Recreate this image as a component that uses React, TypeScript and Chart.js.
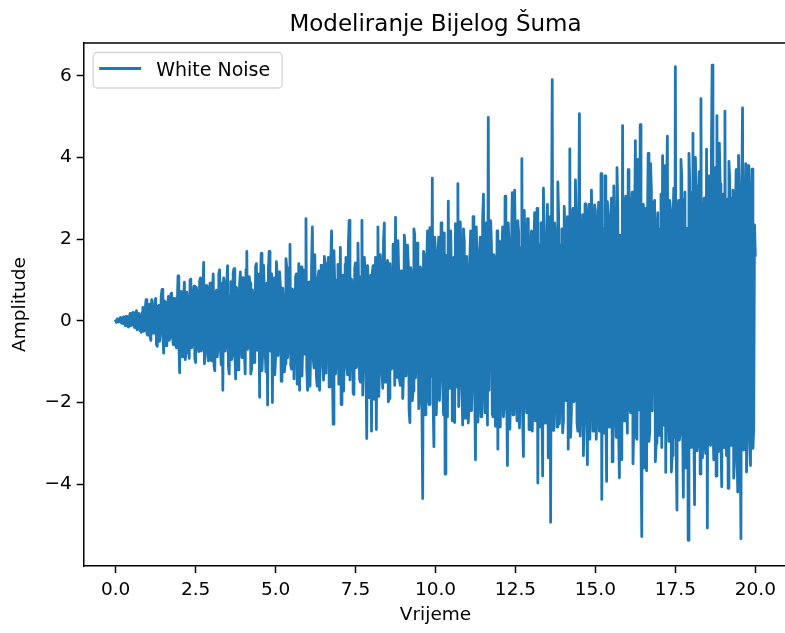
import React, { useEffect, useRef } from "react";
import { Chart, registerables } from "chart.js";

Chart.register(...registerables);

const TITLE = "Modeliranje Bijelog Šuma";
const SERIES_LABEL = "White Noise";
const X_LABEL = "Vrijeme";
const Y_LABEL = "Amplitude";
const TIME_STEP = 0.025; // seconds between consecutive samples
const X_TICKS = [0, 2.5, 5, 7.5, 10, 12.5, 15, 17.5, 20];
const Y_TICKS = [-4, -2, 0, 2, 4, 6];
const X_MIN = -1;
const X_MAX = 21;
const Y_MIN = -6.0;
const Y_MAX = 6.8;
const LINE_COLOR = "#1f77b4";

// samples at t = 0, 0.05, 0.10, ... 20.00 (one row per second)
const SAMPLES_ON_GRID = [
  0.00, 0.05, -0.03, 0.08, -0.06, 0.10, -0.12, 0.06, -0.15, 0.18, -0.09, 0.21, -0.17, 0.25, -0.20, 0.14, -0.28, 0.33, -0.22, 0.52,
  -0.35, 0.41, -0.48, 0.22, -0.30, 0.55, -0.62, 0.38, -0.15, 0.77, -0.79, 0.45, -0.52, 0.60, -0.40, 0.68, -0.58, 0.31, -0.66, 1.10,
  -1.27, 0.72, -0.55, 0.95, -0.78, 0.40, -0.92, 1.02, -0.48, 0.85, -1.02, 0.58, -0.75, 1.05, -0.60, 1.43, -0.83, 0.66, -0.98, 0.92,
  -0.98, 1.15, -1.22, 0.75, -0.64, 1.25, -1.08, -1.70, 0.88, -0.45, 1.35, -1.30, 0.96, -0.82, 1.28, -1.42, 0.70, -1.15, 1.20, -0.90,
  1.05, -1.30, 1.70, -0.45, 0.92, -1.18, 0.32, -0.80, 1.40, -0.26, -1.87, 1.65, -0.65, 0.58, -1.25, -2.06, 1.70, -0.42, -2.00, 1.05,
  -0.90, 1.12, -0.38, 0.85, -1.42, 0.45, -1.05, 1.28, -0.60, 1.87, -1.18, 0.70, -0.22, 1.15, -0.88, -1.70, 1.32, -0.55, 0.98, 2.50,
  -1.70, 0.95, -0.60, 2.30, -1.15, 0.48, -1.60, 1.22, -0.78, 0.65, -1.45, 1.40, -0.30, 1.55, -1.02, 2.20, -2.53, 0.85, -0.95, 1.38,
  -0.72, -2.05, 1.12, -0.88, 1.55, -1.32, 2.46, -0.58, 0.90, -1.80, 1.42, -1.05, 0.68, -1.50, 2.46, -0.82, 1.20, -2.88, 0.75, -1.25,
  -2.70, 1.35, -0.95, -2.66, 2.30, -1.18, 1.05, -1.65, 2.40, -0.80, 1.48, -1.90, 0.92, -1.12, 1.70, 2.53, -1.38, 1.15, -1.58, 0.88,
  -1.30, 1.85, -0.95, 1.40, -2.49, 1.10, -1.72, 2.10, -0.70, 1.55, -1.88, 1.25, -4.35, 1.60, -1.25, 2.20, -2.05, 1.05, 3.49, -3.08,
  1.70, -1.45, 2.05, -1.05, 1.60, -2.30, -3.75, 1.30, 2.93, -1.65, 1.02, -2.10, -2.49, 1.85, 3.36, -1.30, 1.45, -2.55, 1.95, -1.55,
  1.15, -2.00, 2.20, -1.30, 1.70, -3.40, 1.40, -1.80, 2.05, -1.45, 3.10, -2.25, 1.30, 4.98, -1.70, 1.85, -2.35, 1.50, -1.95, -3.14,
  1.95, -1.50, 2.30, -2.10, 1.45, -3.54, 1.80, -1.65, 3.14, -2.00, 1.60, -2.45, 2.15, -1.35, 3.97, -3.32, 1.90, -2.25, 2.50, -1.75,
  2.20, -1.95, 2.65, -1.70, -3.97, 1.85, 2.40, -3.80, 1.75, -2.30, 2.85, -1.80, -4.93, 5.90, -2.10, 2.05, -2.60, 2.55, -1.85, 2.25,
  -2.45, 2.05, -1.75, -3.14, 4.21, -2.20, 2.75, -1.95, 2.35, -2.70, 5.07, -2.05, 2.60, -2.35, 1.95, -3.52, 2.85, -1.80, 2.20, -2.55,
  2.70, -2.15, 2.90, -2.35, -4.37, 2.25, 3.55, -3.93, 2.60, -2.05, 3.00, -2.60, 2.20, -2.85, 2.75, -3.84, 2.10, 4.78, -2.45, 3.05,
  -2.75, 2.50, -2.25, 3.15, -2.60, 4.41, -2.90, 2.30, 4.80, -5.28, 2.85, -2.50, -3.67, 4.10, -2.70, 3.20, -2.20, 2.95, -3.00, 2.65,
  -2.80, 3.10, 4.04, -2.55, -3.71, 4.52, -2.95, 2.70, -3.30, 3.25, 6.22, -4.63, 2.95, -2.75, 3.50, -4.32, 3.15, -3.05, -5.37, 3.40,
  -3.10, 4.59, -4.50, 3.30, -2.95, 3.65, 5.44, -3.35, 3.00, -3.25, -5.07, 3.55, -3.05, 6.26, -3.40, 3.75, 5.02, -3.20, 3.35, -4.06,
  3.10, 5.13, -3.30, -4.10, 3.45, -3.05, 3.20, -3.40, 3.70, -4.19, 3.00, -5.33, 5.21, -3.15, 3.85, -2.90, 3.25, -3.54, 3.71, -2.66,
  1.60,
];

// samples at t = 0.025, 0.075, ... 19.975 (between the grid samples)
const SAMPLES_BETWEEN = [
  -0.04, 0.02, 0.06, -0.05, 0.08, -0.07, 0.11, -0.13, 0.09, -0.12, 0.16, -0.14, 0.19, -0.22, 0.18, -0.25, 0.20, -0.26, 0.30, -0.31,
  0.28, -0.37, 0.52, -0.30, 0.47, -0.58, 0.36, -0.50, 0.62, -0.33, 0.49, -0.61, 0.40, -0.48, 0.66, -0.35, 0.55, -0.60, 0.38, -0.52,
  0.55, -0.88, 0.62, -0.95, 0.70, -0.52, 1.00, -0.66, 0.58, -0.92, 0.82, -0.60, 0.98, -0.74, 0.62, -1.05, 0.86, -0.56, 0.71, -0.94,
  0.70, -1.10, 0.65, -0.88, 1.15, -0.68, 0.92, 1.05, -0.74, 0.98, -1.12, 0.62, -0.95, 1.18, -0.72, 0.82, -1.20, 0.93, -0.66, 1.06,
  -0.78, 1.25, -0.70, 1.08, -1.30, 0.76, -1.02, 1.34, -0.72, 1.14, 0.84, -1.22, 1.36, -0.80, 0.92, 1.28, -0.74, 1.15, 0.70, -1.32,
  1.45, -0.85, 1.20, -1.48, 0.80, -1.25, 1.52, -0.90, 1.30, -1.10, 0.78, -1.42, 1.08, -1.55, 1.40, 0.86, -1.35, 1.24, -0.82, -1.15,
  0.95, -1.60, 1.32, -0.90, 1.62, -1.35, 1.05, -1.70, 1.36, -1.00, 1.58, -1.28, 0.92, -1.62, 1.45, -1.05, 1.72, -1.30, 1.00, -1.55,
  1.80, 1.05, -1.72, 1.38, -1.10, 1.85, -1.45, 1.02, -1.78, 1.30, -1.15, 1.90, -1.42, 1.08, -1.82, 1.55, -1.05, 1.35, -1.88, 1.12,
  1.20, -1.92, 1.55, 1.10, -1.85, 1.62, -1.15, 1.95, -1.50, 1.25, -1.98, 1.40, -1.18, 1.88, -1.58, -1.20, 1.96, -1.45, 1.22, -1.90,
  2.10, -1.35, 1.85, -2.20, 1.30, -1.95, 2.25, -1.40, 1.90, -2.15, 1.32, -2.05, 1.70, -2.30, 1.45, -1.88, 2.28, -1.36, -1.95, 2.05,
  -2.30, 1.50, -1.95, 2.40, -1.45, 2.15, 1.60, -2.35, -1.52, 2.20, -2.45, 1.55, 2.38, -1.62, -2.10, 2.42, -1.48, 2.25, -2.38, 1.58,
  -2.50, 1.58, -2.20, 2.55, -1.62, 2.30, -2.48, 1.65, -2.35, 2.52, -1.60, 2.40, -2.55, -1.70, 2.45, -2.28, 1.62, -2.58, 2.20, 1.75,
  -2.60, 1.70, -2.35, 3.05, -1.75, 2.40, -2.65, 1.72, -2.30, 3.20, -1.78, 2.45, -2.62, 1.80, -2.38, 2.70, -1.74, 2.50, -2.66, 1.82,
  -2.70, 1.80, -2.45, 2.75, 1.85, -2.60, -1.78, 3.25, -2.50, 1.88, -3.35, 2.55, 1.82, -2.68, 2.40, -1.90, 3.40, -2.52, 1.86, -2.74,
  2.80, -1.95, 2.55, 1.90, -2.85, 2.60, -1.98, 3.45, -2.50, 2.00, -2.82, 1.92, -3.30, 2.86, -2.02, 2.58, -2.90, 3.20, -2.70, 2.84,
  -2.90, 2.05, -2.70, 3.60, 2.10, -2.75, -2.08, 2.92, -2.60, 2.12, -3.45, 3.30, -2.15, 3.75, -2.72, 2.10, -3.40, -2.18, 2.80, -2.06,
  3.70, -2.15, 2.80, -3.50, 2.20, -2.85, 3.95, -2.18, -2.90, 2.25, -3.60, 2.75, 2.22, -2.95, 3.85, -2.20, 2.88, -3.45, 2.28, -2.80,
  2.25, -3.10, -2.30, 3.80, 3.12, -2.28, 2.95, -3.70, 2.32, -2.85, -3.15, 2.30, -2.92, 3.95, -2.35, 2.98, -3.60, 2.26, 4.10, -3.05,
  3.15, -2.35, 4.00, -3.18, 2.38, -3.75, -3.20, 2.40, -3.05, 4.20, 2.36, -2.98, 3.90, -2.42, 3.00, -3.80, -2.38, 4.35, -2.96, 2.44,
  -3.10, -2.40, 2.98, 3.90, -2.45, 3.00, -3.85, 2.42, -2.95, 4.05, -2.48, 2.90, -3.16, 2.46, -3.70, 3.80, -2.44, 2.96, -3.12, 2.35,
];

// full series in time order: grid sample, in-between sample, grid sample, ...
const AMPLITUDE: number[] = [];
SAMPLES_ON_GRID.forEach((v, i) => {
  AMPLITUDE.push(v);
  if (i < SAMPLES_BETWEEN.length) AMPLITUDE.push(SAMPLES_BETWEEN[i]);
});
const TIMES = AMPLITUDE.map((_, i) => Math.round(i * TIME_STEP * 1000) / 1000);

const FONT_FAMILY = '"DejaVu Sans", sans-serif';
const TICK_FONT = { family: FONT_FAMILY, size: 18.5 };

const overlayPlugin = {
  id: "overlay",
  afterDraw(chart: any) {
    const { ctx, chartArea: a } = chart;
    ctx.save();
    // top spine (left and bottom spines are the axes borders)
    ctx.strokeStyle = "#000";
    ctx.lineWidth = 1.5;
    ctx.beginPath();
    ctx.moveTo(a.left - 0.75, a.top);
    ctx.lineTo(chart.width + 2, a.top);
    ctx.stroke();

    // title
    ctx.fillStyle = "#000";
    ctx.font = `23px ${FONT_FAMILY}`;
    ctx.textAlign = "center";
    ctx.textBaseline = "alphabetic";
    ctx.fillText(TITLE, (a.left + a.right) / 2, a.top - 12);

    // legend (upper left)
    const bx = a.left + 9.5;
    const by = a.top + 9.5;
    const bw = 189;
    const bh = 35.5;
    ctx.beginPath();
    ctx.roundRect(bx, by, bw, bh, 4);
    ctx.fillStyle = "rgba(255,255,255,0.8)";
    ctx.fill();
    ctx.strokeStyle = "rgba(204,204,204,0.8)";
    ctx.lineWidth = 1.3;
    ctx.stroke();

    const ly = by + 16;
    ctx.beginPath();
    ctx.moveTo(bx + 6, ly);
    ctx.lineTo(bx + 48, ly);
    ctx.strokeStyle = LINE_COLOR;
    ctx.lineWidth = 2.8;
    ctx.stroke();

    ctx.fillStyle = "#000";
    ctx.font = `19px ${FONT_FAMILY}`;
    ctx.textAlign = "left";
    ctx.textBaseline = "alphabetic";
    ctx.fillText(SERIES_LABEL, bx + 63, by + 23.3);
    ctx.restore();
  },
};

export default function App() {
  const canvasRef = useRef<HTMLCanvasElement | null>(null);

  useEffect(() => {
    const canvas = canvasRef.current;
    if (!canvas) return;
    const points = AMPLITUDE.map((v, i) => ({ x: TIMES[i], y: v }));
    const chart = new Chart(canvas, {
      type: "line",
      data: {
        datasets: [
          {
            label: SERIES_LABEL,
            data: points,
            borderColor: LINE_COLOR,
            backgroundColor: LINE_COLOR,
            borderWidth: 2.8,
            pointRadius: 0,
            tension: 0,
            fill: false,
            borderJoinStyle: "round",
            borderCapStyle: "square",
          },
        ],
      },
      options: {
        animation: false,
        responsive: false,
        devicePixelRatio: 1,
        events: [],
        layout: { padding: { top: 43, right: 12.7, left: 0, bottom: 0 } },
        plugins: {
          legend: { display: false },
          title: { display: false },
          tooltip: { enabled: false },
        },
        scales: {
          x: {
            type: "linear",
            min: X_MIN,
            max: X_MAX,
            afterBuildTicks: (s: any) => {
              s.ticks = X_TICKS.map((v) => ({ value: v }));
            },
            afterFit: (s: any) => {
              s.height = 67;
            },
            ticks: {
              callback: (v: any) => Number(v).toFixed(1),
              font: TICK_FONT,
              color: "#000",
              padding: 6,
              maxRotation: 0,
              autoSkip: false,
            },
            grid: {
              display: true,
              drawOnChartArea: false,
              drawTicks: true,
              tickLength: 7,
              tickWidth: 1.5,
              tickColor: "#000",
              color: "rgba(0,0,0,0)",
            },
            border: { display: true, color: "#000", width: 1.5 },
            title: {
              display: true,
              text: X_LABEL,
              font: TICK_FONT,
              color: "#000",
              padding: { top: 0, bottom: 7 },
            },
          },
          y: {
            type: "linear",
            min: Y_MIN,
            max: Y_MAX,
            afterBuildTicks: (s: any) => {
              s.ticks = Y_TICKS.map((v) => ({ value: v }));
            },
            afterFit: (s: any) => {
              s.width = 83.7;
            },
            ticks: {
              callback: (v: any) => (Number(v) < 0 ? "\u2212" + Math.abs(Number(v)) : String(v)),
              font: TICK_FONT,
              color: "#000",
              padding: 5,
            },
            grid: {
              display: true,
              drawOnChartArea: false,
              drawTicks: true,
              tickLength: 7,
              tickWidth: 1.5,
              tickColor: "#000",
              color: "rgba(0,0,0,0)",
            },
            border: { display: true, color: "#000", width: 1.5 },
            title: {
              display: true,
              text: Y_LABEL,
              font: TICK_FONT,
              color: "#000",
              padding: { top: 9, bottom: 0 },
            },
          },
        },
      },
      plugins: [overlayPlugin],
    } as any);
    return () => chart.destroy();
  }, []);

  return (
    <div
      style={{
        position: "fixed",
        left: 0,
        top: 0,
        width: 785,
        height: 633,
        overflow: "hidden",
        background: "#fff",
      }}
    >
      <canvas ref={canvasRef} width={800} height={633} style={{ display: "block" }} />
    </div>
  );
}
